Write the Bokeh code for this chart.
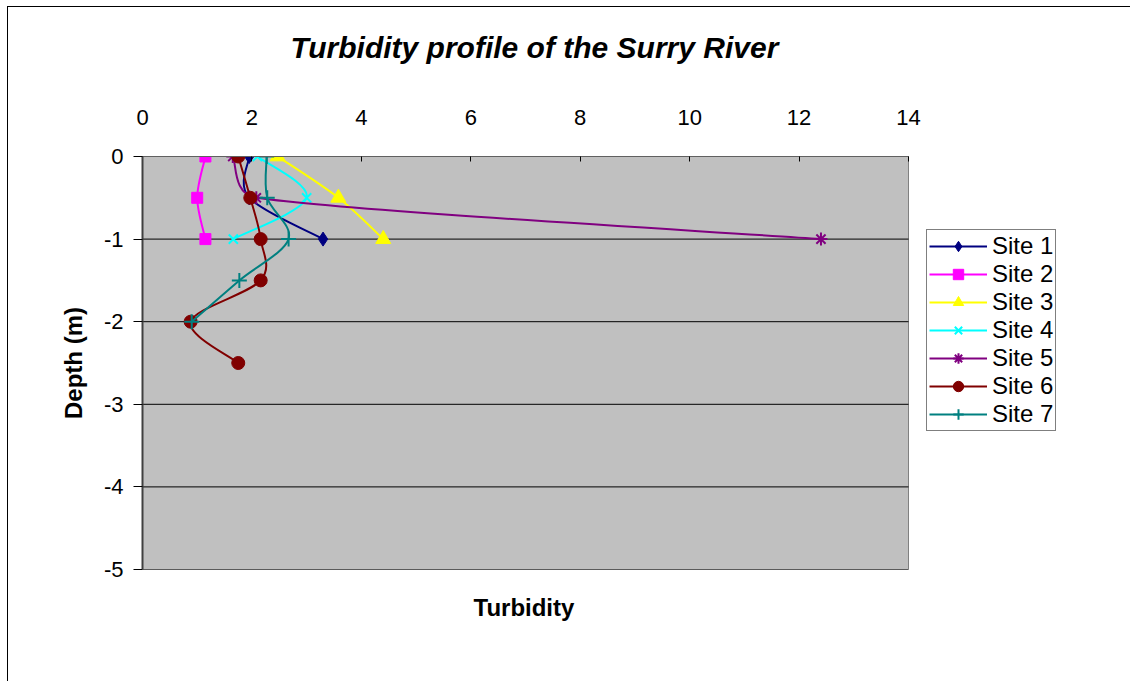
from bokeh.plotting import figure
from bokeh.layouts import column
from bokeh.models import Range1d, Legend, LegendItem, Title, FixedTicker, ColumnDataSource
from bokeh.embed import file_html
from bokeh.resources import INLINE

# ---- data ----
site_names = ["Site 1", "Site 2", "Site 3", "Site 4", "Site 5", "Site 6", "Site 7"]
site1_turb = [1.95, 1.95, 3.3]
site1_depth = [0, -0.5, -1]
site2_turb = [1.15, 1.0, 1.15]
site2_depth = [0, -0.5, -1]
site3_turb = [2.47, 3.58, 4.4]
site3_depth = [0, -0.5, -1]
site4_turb = [2.1, 3.0, 1.66]
site4_depth = [0, -0.5, -1]
site5_turb = [1.65, 2.08, 12.4]
site5_depth = [0, -0.5, -1]
site6_turb = [1.75, 1.97, 2.16, 2.16, 0.88, 1.75]
site6_depth = [0, -0.5, -1, -1.5, -2, -2.5]
site7_turb = [2.27, 2.28, 2.67, 1.77, 0.9]
site7_depth = [0, -0.5, -1, -1.5, -2]
x_ticks = [0, 2, 4, 6, 8, 10, 12, 14]
y_ticks = [0, -1, -2, -3, -4, -5]
title_text = "Turbidity profile of the Surry River"

series = [
    (site1_turb, site1_depth, "#000080", "diamond", 14, "#000080"),
    (site2_turb, site2_depth, "#FF00FF", "square", 11, "#FF00FF"),
    (site3_turb, site3_depth, "#FFFF00", "triangle", 15, "#FFFF00"),
    (site4_turb, site4_depth, "#00FFFF", "x", 13, None),
    (site5_turb, site5_depth, "#800080", "asterisk", 13, None),
    (site6_turb, site6_depth, "#800000", "circle", 13, "#800000"),
    (site7_turb, site7_depth, "#008080", "cross", 15, None),
]

FONT = "Liberation Sans"
X_MIN, X_MAX, Y_MIN, Y_MAX = 0, 14, -5, 0

# layout (pixels)
W = 1122
TITLE_H = 64
H = 610
BORDER_L, BORDER_R, BORDER_T, BORDER_B = 134, 2, 85, 112
PLOT_W = 766                      # width of the grey plot area (0..14)
FRAME_W = W - BORDER_L - BORDER_R  # frame also holds the legend on its right
FRAME_H = H - BORDER_T - BORDER_B
X_VIEW_MAX = X_MIN + (X_MAX - X_MIN) * FRAME_W / PLOT_W

# ---- title strip ----
t = figure(width=W, height=TITLE_H, output_backend="svg", toolbar_location=None,
           x_axis_type=None, y_axis_type=None,
           min_border_left=BORDER_L, min_border_right=BORDER_R,
           min_border_top=56, min_border_bottom=0)
t.outline_line_color = None
t.background_fill_color = "white"
t.border_fill_color = "white"
t.xgrid.grid_line_color = None
t.ygrid.grid_line_color = None
t.title.text = title_text
t.title.align = "left"
t.title.offset = 148
t.title.text_font = FONT
t.title.text_font_size = "30px"
t.title.text_font_style = "bold italic"
t.title.text_color = "black"
t.title.standoff = 0

# ---- main chart ----
p = figure(width=W, height=H, output_backend="svg", toolbar_location=None,
           x_range=Range1d(X_MIN, X_VIEW_MAX), y_range=Range1d(Y_MIN, Y_MAX),
           x_axis_location="above",
           min_border_left=BORDER_L, min_border_right=BORDER_R,
           min_border_top=BORDER_T, min_border_bottom=BORDER_B)

p.background_fill_color = "white"
p.border_fill_color = "white"
p.outline_line_color = None

# grey plot area
p.quad(left=[X_MIN], right=[X_MAX], bottom=[Y_MIN], top=[Y_MAX],
       fill_color="#C0C0C0", line_color="#808080", line_width=1, level="underlay")
# horizontal grid lines, limited to the plot area
p.segment(x0=[X_MIN] * len(y_ticks), x1=[X_MAX] * len(y_ticks), y0=y_ticks, y1=y_ticks,
          line_color="black", line_width=1, level="underlay")

# x axis (top)
xa = p.xaxis[0]
xa.ticker = FixedTicker(ticks=x_ticks)
xa.bounds = (X_MIN, X_MAX)
xa.major_label_text_font = FONT
xa.major_label_text_font_size = "22px"
xa.major_label_text_color = "black"
xa.major_tick_in = 5
xa.major_tick_out = 0
xa.minor_tick_line_color = None
xa.axis_line_color = "#606060"
xa.major_tick_line_color = "black"
xa.major_label_standoff = 32

# y axis
ya = p.yaxis[0]
ya.ticker = FixedTicker(ticks=y_ticks)
ya.major_label_overrides = {v: str(v) for v in y_ticks}
ya.major_label_text_font = FONT
ya.major_label_text_font_size = "22px"
ya.major_label_text_color = "black"
ya.major_tick_in = 0
ya.major_tick_out = 9
ya.minor_tick_line_color = None
ya.axis_line_color = "#404040"
ya.axis_line_width = 2
ya.major_tick_line_color = "black"
ya.major_label_standoff = 10
ya.axis_label = "Depth (m)"
ya.axis_label_text_font = FONT
ya.axis_label_text_font_size = "24px"
ya.axis_label_text_font_style = "bold"
ya.axis_label_text_color = "black"
ya.axis_label_standoff = 14

p.xgrid.grid_line_color = None
p.ygrid.grid_line_color = None

xlabel = Title(text="Turbidity", align="left", offset=331, text_font=FONT, text_font_size="24px",
               text_font_style="bold", text_color="black", standoff=45)
p.add_layout(xlabel, "below")

SX = PLOT_W / (X_MAX - X_MIN)
SY = FRAME_H / (Y_MAX - Y_MIN)


def _dist(a, b):
    return (((a[0] - b[0]) * SX) ** 2 + ((a[1] - b[1]) * SY) ** 2) ** 0.5


def smooth_controls(xs, ys):
    """Excel-like smoothed line: cubic Bezier control points from neighbours."""
    n = len(xs)
    pts = list(zip(xs, ys))
    out = {k: [] for k in ("x0", "y0", "x1", "y1", "cx0", "cy0", "cx1", "cy1")}
    f = 1.0 / 6.0
    for i in range(n - 1):
        p0 = pts[i - 1] if i > 0 else pts[i]
        p1 = pts[i]
        p2 = pts[i + 1]
        p3 = pts[i + 2] if i + 2 < n else pts[i + 1]
        d12 = _dist(p1, p2)
        d02 = _dist(p0, p2)
        d13 = _dist(p1, p3)
        b1 = f if (d02 * f < d12 / 2 or d02 == 0) else d12 / (2 * d02)
        b2 = f if (d13 * f < d12 / 2 or d13 == 0) else d12 / (2 * d13)
        out["x0"].append(p1[0]); out["y0"].append(p1[1])
        out["x1"].append(p2[0]); out["y1"].append(p2[1])
        out["cx0"].append(p1[0] + (p2[0] - p0[0]) * b1)
        out["cy0"].append(p1[1] + (p2[1] - p0[1]) * b1)
        out["cx1"].append(p2[0] - (p3[0] - p1[0]) * b2)
        out["cy1"].append(p2[1] - (p3[1] - p1[1]) * b2)
    return out


items = []
for name, (xs, ys, color, marker, size, fill) in zip(site_names, series):
    src = ColumnDataSource(smooth_controls(xs, ys))
    lr = p.bezier(x0="x0", y0="y0", x1="x1", y1="y1", cx0="cx0", cy0="cy0", cx1="cx1", cy1="cy1",
                  source=src, line_color=color, line_width=2)
    sr = p.scatter(xs, ys, marker=marker, size=size, line_color=color,
                   fill_color=fill if fill else color, line_width=2 if fill is None else 1)
    items.append(LegendItem(label=name, renderers=[lr, sr]))

legend = Legend(items=items, location=(784, 138))
legend.label_text_font = FONT
legend.label_text_font_size = "24px"
legend.label_text_color = "black"
legend.border_line_color = "black"
legend.border_line_width = 1
legend.background_fill_color = "white"
legend.background_fill_alpha = 1
legend.glyph_width = 58
legend.glyph_height = 26
legend.label_height = 26
legend.spacing = 0
legend.padding = 2
legend.margin = 0
legend.label_standoff = 5
p.add_layout(legend, "center")

page = column(t, p, spacing=0)
page.margin = (6, 0, 0, 7)
page.styles = {"border-top": "1px solid black", "border-left": "1px solid black"}

open("out.html", "w").write(file_html(page, INLINE))
